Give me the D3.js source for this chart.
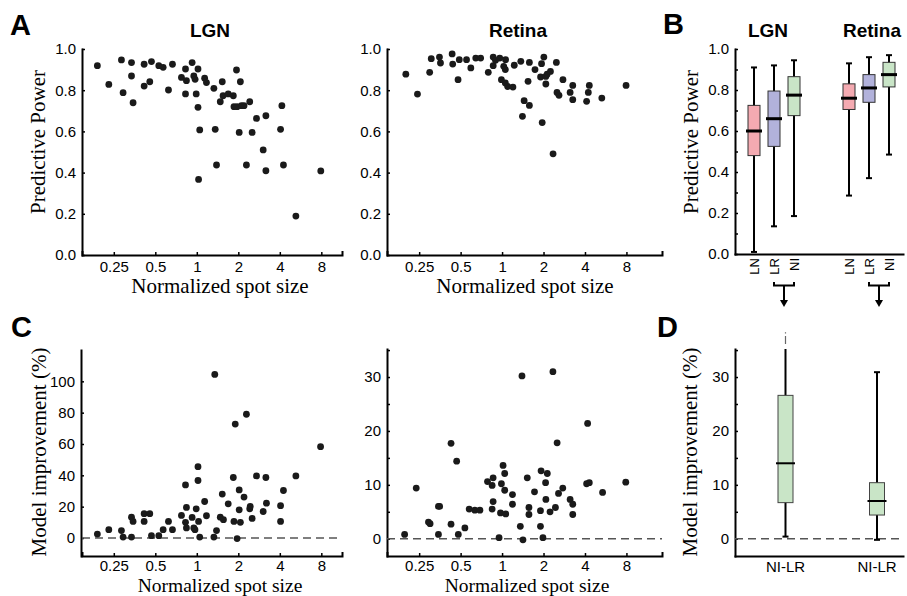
<!DOCTYPE html>
<html>
<head>
<meta charset="utf-8">
<script src="https://cdnjs.cloudflare.com/ajax/libs/d3/7.8.5/d3.min.js"></script>
<style>
  body { margin: 0; background: #fff; }
  .ax text { font-family: "Liberation Sans", Arial, sans-serif; font-size: 15px; fill: #000; }
  .ax path { stroke: #000; stroke-width: 2; stroke-linecap: square; }
  .ax line { stroke: #000; stroke-width: 1.5; }
  .serif { font-family: "Liberation Serif", "Times New Roman", serif; font-size: 21px; fill: #000; }
  .title { font-family: "Liberation Sans", Arial, sans-serif; font-size: 19px; font-weight: bold; }
  .letter { font-family: "Liberation Sans", Arial, sans-serif; font-size: 29px; font-weight: bold; }
  .small { font-family: "Liberation Sans", Arial, sans-serif; font-size: 13px; }
</style>
</head>
<body>
<div id="fig"></div>
<script>
// ---- data ----
var sizeTicks = [0.25, 0.5, 1, 2, 4, 8];

// A, LGN: normalized spot size vs predictive power
var lgnSize = [0.19,0.23,0.284,0.292,0.336,0.336,0.345,0.415,0.415,0.456,0.469,0.53,0.57,0.623,0.666,0.774,0.828,0.841,0.828,0.925,
  0.951,0.972,1.02,0.99,1.02,1.05,1.03,1.14,1.175,1.33,1.36,1.39,1.53,1.48,1.55,1.69,1.84,1.86,1.96,1.94,
  2.07,2.03,2.11,2.2,2.29,2.42,2.52,2.71,3.03,3.17,3.17,4.05,4.14,4.25,5.23,7.93];
var lgnPower = [0.919,0.828,0.947,0.788,0.934,0.869,0.739,0.926,0.82,0.841,0.939,0.919,0.911,0.801,0.926,0.862,0.903,0.846,0.782,0.934,
  0.869,0.853,0.903,0.782,0.717,0.607,0.367,0.858,0.837,0.809,0.61,0.437,0.841,0.744,0.773,0.782,0.773,0.72,0.72,0.898,
  0.841,0.595,0.725,0.725,0.437,0.744,0.595,0.663,0.51,0.676,0.409,0.61,0.725,0.437,0.189,0.408];

// A, Retina
var retSize = [0.20,0.243,0.298,0.306,0.351,0.357,0.434,0.438,0.479,0.489,0.552,0.593,0.644,0.699,0.794,0.862,0.862,0.896,0.962,0.989,
  1.028,1.056,1.06,1.056,1.098,1.199,1.226,1.368,1.406,1.446,1.544,1.579,1.579,1.734,1.904,1.935,1.956,2.011,2.079,2.125,
  2.079,2.245,2.346,2.479,2.506,2.59,2.767,3.12,3.26,3.26,4.11,4.23,4.30,5.30,7.95];
var retPower = [0.878,0.781,0.887,0.953,0.961,0.932,0.976,0.927,0.851,0.948,0.948,0.908,0.956,0.956,0.887,0.919,0.961,0.945,0.956,0.851,
  0.916,0.900,0.948,0.835,0.818,0.815,0.921,0.940,0.673,0.749,0.843,0.935,0.726,0.900,0.864,0.929,0.643,0.961,0.867,0.878,
  0.830,0.891,0.491,0.935,0.789,0.775,0.851,0.789,0.823,0.754,0.746,0.789,0.823,0.762,0.823];

// C, LGN: model improvement (%)
var lgnImpSize = [0.19,0.23,0.284,0.292,0.336,0.345,0.336,0.415,0.415,0.456,0.469,0.53,0.57,0.623,0.666,0.774,0.828,0.841,0.828,0.841,
  0.925,0.951,0.99,1.02,1.02,1.03,1.05,0.97,1.14,1.175,1.35,1.33,1.39,1.53,1.48,1.56,1.69,1.84,1.9,1.86,
  1.96,2.03,2.03,2.07,2.2,2.29,2.42,2.44,2.52,2.71,3.03,3.17,3.2,4.05,4.05,4.25,5.23,7.9];
var lgnImp = [2.5,5.3,4.7,0.6,13.3,10.6,0.6,15.5,10.6,15.5,1.5,1.5,5.3,10.6,5.3,14.4,33.9,19.5,10.0,6.4,
  13.1,6.4,18.6,36.7,45.5,10.6,0.6,5.3,23.3,14.2,104.4,0.6,4.7,28,13.3,11.7,21.8,38.6,72.7,10.6,
  -0.4,30.7,18.0,10.0,26.1,79.0,18.6,20.1,12.5,39.6,16.9,38.6,22.2,20.6,10.6,30.3,39.6,58.3];

// C, Retina
var retImpSize = [0.196,0.238,0.292,0.30,0.345,0.345,0.352,0.426,0.426,0.468,0.481,0.537,0.577,0.634,0.69,0.784,0.847,0.861,0.861,0.847,
  0.951,0.989,1.017,0.974,1.045,1.045,1.063,1.19,1.19,1.357,1.395,1.418,1.524,1.567,1.567,1.72,1.90,1.92,1.90,1.98,
  2.07,2.08,2.13,2.23,2.34,2.44,2.51,2.57,2.76,3.12,3.26,3.26,4.11,4.18,4.30,5.37,7.91];
var retImp = [0.8,9.4,3.1,2.8,0.8,6.0,6.0,17.7,2.7,14.4,0.8,2.0,5.5,5.3,5.3,10.6,9.9,11.3,6.9,5.5,
  0.2,10.2,13.6,4.8,12.1,9.0,4.6,8.2,6.4,2.3,30.2,-0.2,11.3,5.8,4.5,8.7,2.3,12.6,5.2,0.2,
  10.4,7.3,12.1,5.0,31.0,5.8,17.8,8.4,9.4,7.3,6.4,4.5,10.2,21.4,10.4,8.6,10.5];

// B: box plots of predictive power
var regions = ["LGN", "Retina"];
var models = ["LN", "LR", "NI"];
var boxRegion = ["LGN","LGN","LGN","Retina","Retina","Retina"];
var boxModel  = ["LN","LR","NI","LN","LR","NI"];
var boxMin = [0.01, 0.135, 0.185, 0.285, 0.37, 0.485];
var boxQ1  = [0.48, 0.525, 0.675, 0.705, 0.74, 0.815];
var boxMed = [0.60, 0.66, 0.775, 0.76, 0.81, 0.875];
var boxQ3  = [0.725, 0.795, 0.865, 0.83, 0.875, 0.935];
var boxMax = [0.91, 0.92, 0.945, 0.93, 0.96, 0.97];
var modelColor = { LN: "#f4aab1", LR: "#b2b2db", NI: "#c9e5c7" };

// D: NI-LR improvement
var dLabel = ["NI-LR", "NI-LR"];
var dMin = [0.4, -0.2];
var dQ1  = [6.7, 4.4];
var dMed = [14.0, 7.0];
var dQ3  = [26.6, 10.4];
var dMax = [38.3, 30.9];

// ---- svg ----
var svg = d3.select("#fig").append("svg")
    .attr("width", 907).attr("height", 596)
    .style("background", "#fff");

var sans = "Liberation Sans, Arial, sans-serif";

// scales
var xLgn = d3.scaleLog().base(2).domain([0.147, 11.3]).range([82, 342]);
var xRet = d3.scaleLog().base(2).domain([0.146, 14.5]).range([387, 662]);
var yPow = d3.scaleLinear().domain([0, 1]).range([255, 49]);
var yImpL = d3.scaleLinear().domain([-11.5, 120]).range([556, 350]);
var yImpR = d3.scaleLinear().domain([-3.2, 35.2]).range([556, 349]);
var yPowB = d3.scaleLinear().domain([0, 1]).range([254, 49]);

function yAxis(x0, y, ticks, fmt, minor) {
  var g = svg.append("g").attr("class", "ax")
      .attr("transform", "translate(" + x0 + ",0)")
      .call(d3.axisLeft(y).tickValues(ticks).tickFormat(fmt).tickSize(-3).tickSizeOuter(0).tickPadding(6));
  if (minor) {
    svg.append("g").attr("class", "ax")
        .attr("transform", "translate(" + x0 + ",0)")
        .call(d3.axisLeft(y).tickValues(minor).tickFormat("").tickSize(-3).tickSizeOuter(0))
        .select(".domain").remove();
  }
  return g;
}

function xAxis(y0, x, ticks, pad) {
  var ax = d3.axisBottom(x).tickSizeOuter(0).tickPadding(pad || 6);
  if (ticks) ax.tickValues(ticks).tickFormat(d3.format("")).tickSize(-3);
  else ax.tickValues([]);
  return svg.append("g").attr("class", "ax")
      .attr("transform", "translate(0," + y0 + ")")
      .call(ax);
}

function zeroLine(x, y) {
  svg.append("line")
      .attr("x1", x.range()[0]).attr("x2", x.range()[1])
      .attr("y1", y(0)).attr("y2", y(0))
      .attr("stroke", "#555").attr("stroke-width", 1.5)
      .attr("stroke-dasharray", "8,5");
}

function dots(x, y, xs, ys) {
  svg.append("g").selectAll("circle")
    .data(xs)
    .enter().append("circle")
      .attr("cx", function(d) { return x(d); })
      .attr("cy", function(d, i) { return y(ys[i]); })
      .attr("r", 3.4)
      .attr("fill", "#1a1a1a");
}

function text(x, y, str, cls, anchor, rot) {
  var t = svg.append("text").attr("class", cls)
      .attr("text-anchor", anchor || "middle")
      .text(str);
  if (rot) t.attr("transform", "translate(" + x + "," + y + ") rotate(-90)");
  else t.attr("x", x).attr("y", y);
  return t;
}

// ---- panel A ----
var powTicks = [0, 0.2, 0.4, 0.6, 0.8, 1.0];
yAxis(82, yPow, powTicks, d3.format(".1f"));
xAxis(255, xLgn, sizeTicks);
dots(xLgn, yPow, lgnSize, lgnPower);

yAxis(387, yPow, powTicks, d3.format(".1f"));
xAxis(255, xRet, sizeTicks);
dots(xRet, yPow, retSize, retPower);

text(210, 37, "LGN", "title");
text(518, 37, "Retina", "title");
text(45, 142, "Predictive Power", "serif", "middle", true);
text(220, 293, "Normalized spot size", "serif");
text(525, 293, "Normalized spot size", "serif");

// ---- panel C ----
yAxis(81, yImpL, [0, 20, 40, 60, 80, 100], d3.format("d"));
xAxis(556, xLgn, sizeTicks, 4);
zeroLine(xLgn, yImpL);
dots(xLgn, yImpL, lgnImpSize, lgnImp);

yAxis(387, yImpR, [0, 10, 20, 30], d3.format("d"), [5, 15, 25, 35]);
xAxis(556, xRet, sizeTicks, 4);
zeroLine(xRet, yImpR);
dots(xRet, yImpR, retImpSize, retImp);

text(46, 452, "Model improvement (%)", "serif", "middle", true);
text(220, 591.7, "Normalized spot size", "serif").style("font-size", "19.5px");
text(527, 591.7, "Normalized spot size", "serif").style("font-size", "19.5px");

// ---- panel B ----
var xRegion = d3.scalePoint().domain(regions).range([774, 869]);
var xModel = d3.scalePoint().domain(models).range([-20, 20]);
var boxX = function(i) { return xRegion(boxRegion[i]) + xModel(boxModel[i]); };

yAxis(735, yPowB, powTicks, d3.format(".1f"), [0.1, 0.3, 0.5, 0.7, 0.9]);
xAxis(254, d3.scaleLinear().range([735, 903]), null);

var bw = 12;
var boxes = svg.append("g").selectAll("g")
  .data(boxModel)
  .enter().append("g");
boxes.append("line")
    .attr("x1", function(d, i) { return boxX(i); })
    .attr("x2", function(d, i) { return boxX(i); })
    .attr("y1", function(d, i) { return yPowB(boxMin[i]); })
    .attr("y2", function(d, i) { return yPowB(boxMax[i]); })
    .attr("stroke", "#000").attr("stroke-width", 2);
[boxMin, boxMax].forEach(function(arr) {
  boxes.append("line")
      .attr("x1", function(d, i) { return boxX(i) - 3; })
      .attr("x2", function(d, i) { return boxX(i) + 3; })
      .attr("y1", function(d, i) { return yPowB(arr[i]); })
      .attr("y2", function(d, i) { return yPowB(arr[i]); })
      .attr("stroke", "#000").attr("stroke-width", 2);
});
boxes.append("rect")
    .attr("x", function(d, i) { return boxX(i) - bw / 2; })
    .attr("width", bw)
    .attr("y", function(d, i) { return yPowB(boxQ3[i]); })
    .attr("height", function(d, i) { return yPowB(boxQ1[i]) - yPowB(boxQ3[i]); })
    .attr("fill", function(d) { return modelColor[d]; })
    .attr("stroke", "#333").attr("stroke-width", 1);
boxes.append("line")
    .attr("x1", function(d, i) { return boxX(i) - bw / 2 - 2; })
    .attr("x2", function(d, i) { return boxX(i) + bw / 2 + 2; })
    .attr("y1", function(d, i) { return yPowB(boxMed[i]); })
    .attr("y2", function(d, i) { return yPowB(boxMed[i]); })
    .attr("stroke", "#000").attr("stroke-width", 3);
boxes.append("text")
    .attr("class", "small")
    .attr("text-anchor", "end")
    .attr("transform", function(d, i) { return "translate(" + (boxX(i) + 5) + ",258) rotate(-90)"; })
    .text(function(d) { return d; });

// brackets + arrows from LR/NI down to panel D
regions.forEach(function(r) {
  var a = xRegion(r) + xModel("LR"), b = xRegion(r) + xModel("NI"), m = (a + b) / 2;
  svg.append("path")
      .attr("d", "M" + a + ",282V285.5H" + b + "V282")
      .attr("fill", "none").attr("stroke", "#000").attr("stroke-width", 2);
  svg.append("line")
      .attr("x1", m).attr("x2", m).attr("y1", 285).attr("y2", 301)
      .attr("stroke", "#000").attr("stroke-width", 2);
  svg.append("path")
      .attr("d", "M" + (m - 4) + ",300L" + (m + 4) + ",300L" + m + ",307Z")
      .attr("fill", "#000");
});

text(768, 37, "LGN", "title");
text(872, 37, "Retina", "title");
text(698, 142, "Predictive Power", "serif", "middle", true);

// ---- panel D ----
var xD = d3.scalePoint().domain(regions).range([785.5, 877]);
var dSpan = d3.scaleLinear().range([735, 903]);
yAxis(735, yImpR, [0, 10, 20, 30], d3.format("d"), [5, 15, 25, 35]);
xAxis(556, dSpan, null);
zeroLine(dSpan, yImpR);

var yTop = yImpR.domain()[1];
var dBoxes = svg.append("g").selectAll("g")
  .data(regions)
  .enter().append("g");
dBoxes.append("line")
    .attr("x1", function(d) { return xD(d); })
    .attr("x2", function(d) { return xD(d); })
    .attr("y1", function(d, i) { return yImpR(dMin[i]); })
    .attr("y2", function(d, i) { return yImpR(Math.min(dMax[i], yTop)); })
    .attr("stroke", "#000").attr("stroke-width", 2);
// whisker running past the top of the axis is drawn faint
dBoxes.filter(function(d, i) { return dMax[i] > yTop; })
  .append("line")
    .attr("x1", function(d) { return xD(d); })
    .attr("x2", function(d) { return xD(d); })
    .attr("y1", function() { return yImpR(yTop) - 5; })
    .attr("y2", function(d) { return yImpR(dMax[regions.indexOf(d)]); })
    .attr("stroke", "#666").attr("stroke-width", 1.2)
    .attr("stroke-dasharray", "8,2.5,1.5,20");
[dMin, dMax].forEach(function(arr) {
  dBoxes.filter(function(d, i) { return arr[i] <= yTop; })
    .append("line")
      .attr("x1", function(d) { return xD(d) - 3; })
      .attr("x2", function(d) { return xD(d) + 3; })
      .attr("y1", function(d) { return yImpR(arr[regions.indexOf(d)]); })
      .attr("y2", function(d) { return yImpR(arr[regions.indexOf(d)]); })
      .attr("stroke", "#000").attr("stroke-width", 2);
});
dBoxes.append("rect")
    .attr("x", function(d) { return xD(d) - 7.5; })
    .attr("width", 15)
    .attr("y", function(d, i) { return yImpR(dQ3[i]); })
    .attr("height", function(d, i) { return yImpR(dQ1[i]) - yImpR(dQ3[i]); })
    .attr("fill", modelColor.NI)
    .attr("stroke", "#444").attr("stroke-width", 1);
dBoxes.append("line")
    .attr("x1", function(d) { return xD(d) - 9.5; })
    .attr("x2", function(d) { return xD(d) + 9.5; })
    .attr("y1", function(d, i) { return yImpR(dMed[i]); })
    .attr("y2", function(d, i) { return yImpR(dMed[i]); })
    .attr("stroke", "#000").attr("stroke-width", 2);
dBoxes.append("text")
    .attr("x", function(d) { return xD(d); })
    .attr("y", 572)
    .attr("text-anchor", "middle")
    .style("font-family", sans).style("font-size", "15px")
    .text(function(d, i) { return dLabel[i]; });

text(697, 452, "Model improvement (%)", "serif", "middle", true);

// ---- panel letters ----
text(10, 35, "A", "letter", "start");
text(663, 34, "B", "letter", "start");
text(11, 337, "C", "letter", "start");
text(657, 337, "D", "letter", "start");
</script>
</body>
</html>
